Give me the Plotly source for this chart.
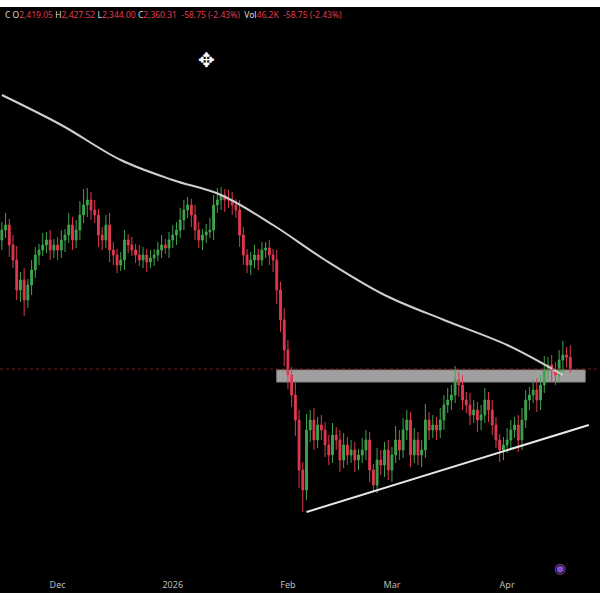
import pandas as pd
import plotly.graph_objects as go

# daily closes (Nov 16 2025 -> Apr 18 2026)
closes = [
    3055, 3080, 2980, 2905, 2755, 2805, 2705, 2780, 2855, 2930, 2955, 2980, 3005, 2955, 2980,
    2955, 3005, 3030, 3080, 3005, 3055, 3130, 3180, 3205, 3155, 3130, 3030, 3005, 3080, 2955, 2930,
    2880, 2905, 3005, 2980, 2955, 2930, 2905, 2930, 2895, 2915, 2930, 2955, 2980, 2965, 3005,
    3030, 3055, 3105, 3155, 3180, 3130, 3055, 3005, 3030, 3045, 3055, 3180, 3205, 3230, 3205, 3205,
    3180, 3155, 3030, 2930, 2880, 2905, 2930, 2905, 2955, 2965, 2930, 2905, 2755, 2605, 2455,
    2330, 2230, 2105, 1855, 1755, 2055, 2105, 2005, 2080, 2055, 1980, 1930, 2030, 2005, 1905, 1980,
    1930, 1955, 1905, 1930, 1955, 2005, 1855, 1780, 1905, 1880, 1955, 1855,
    1930, 2005, 1955, 2055, 2105, 1930, 2005, 1930, 1955, 2105, 2055, 2080, 2055, 2105, 2180, 2205,
    2230, 2305, 2280, 2205, 2180, 2130, 2155, 2105, 2130, 2205, 2155, 2080, 2005, 1955, 1980,
    2005, 2055, 2080, 2005, 2105, 2205, 2230, 2255, 2205, 2280, 2355, 2380, 2355, 2330, 2405, 2430,
    2419, 2360,
]
first_open = 3005
wick_up = [
    40, 60, 30, 50, 70, 40, 60, 30, 50, 40, 30, 60, 40, 50, 30,
    40, 50, 30, 60, 40, 50, 70, 80, 60, 40, 50, 30, 40, 50, 60, 40,
    30, 40, 50, 30, 40, 30, 50, 40, 30, 40, 30, 40, 50, 30, 40,
    50, 40, 60, 50, 40, 30, 50, 40, 30, 40, 60, 50, 60, 40, 30, 50,
    40, 30, 50, 40, 30, 40, 50, 30, 40, 30, 40, 30, 50, 40, 60,
    50, 40, 60, 50, 40, 80, 50, 60, 40, 50, 40, 50, 60, 40, 50, 60,
    40, 50, 40, 30, 60, 50, 40, 30, 60, 50, 40, 50,
    40, 70, 50, 60, 50, 40, 60, 40, 50, 80, 40, 50, 40, 60, 50, 60,
    50, 70, 40, 50, 40, 60, 50, 40, 50, 60, 40, 50, 40, 30, 40,
    60, 50, 40, 50, 60, 50, 40, 50, 60, 50, 70, 40, 50, 40, 50, 70,
    40, 60,
]
wick_dn = [
    50, 40, 60, 40, 50, 60, 80, 40, 50, 40, 50, 30, 40, 50, 40,
    50, 40, 60, 40, 50, 40, 50, 40, 60, 50, 40, 60, 50, 40, 60, 50,
    40, 30, 50, 40, 30, 40, 30, 40, 50, 30, 40, 30, 40, 30, 50,
    40, 50, 40, 50, 40, 60, 50, 40, 50, 40, 30, 50, 40, 50, 60, 40,
    50, 40, 60, 50, 40, 50, 40, 50, 30, 40, 50, 60, 70, 60, 80,
    70, 60, 80, 90, 110, 50, 60, 50, 40, 50, 60, 50, 40, 50, 60, 40,
    50, 40, 60, 50, 40, 50, 60, 30, 40, 50, 60, 50,
    60, 40, 50, 40, 50, 60, 40, 50, 60, 40, 50, 40, 50, 40, 50, 40,
    50, 40, 60, 50, 40, 50, 40, 60, 50, 40, 60, 50, 40, 60, 50,
    40, 50, 40, 60, 50, 40, 50, 40, 60, 50, 40, 50, 60, 50, 40, 60,
    50, 20,
]

# moving average line (read at a few points)
ma_dates = ["2025-11-16", "2025-12-02", "2025-12-18", "2026-01-01", "2026-01-14", "2026-01-28",
            "2026-02-11", "2026-02-27", "2026-03-15", "2026-04-01", "2026-04-16"]
ma_vals = [3730, 3580, 3405, 3305, 3230, 3080, 2905, 2730, 2605, 2480, 2330]

# drawings
zone_x = ["2026-01-29", "2026-04-22"]
zone_y = [2295, 2355]
trend_x = ["2026-02-06", "2026-04-23"]
trend_y = [1645, 2080]
last_price = 2360

dates = pd.date_range("2025-11-16", periods=len(closes), freq="D")
opens = [first_open] + closes[:-1]
highs = [max(o, c) + w for o, c, w in zip(opens, closes, wick_up)]
lows = [min(o, c) - w for o, c, w in zip(opens, closes, wick_dn)]

fig = go.Figure()
fig.add_trace(go.Candlestick(
    x=dates, open=opens, high=highs, low=lows, close=closes,
    increasing=dict(line=dict(color="#3fa34d", width=1), fillcolor="#3fa34d"),
    decreasing=dict(line=dict(color="#e0394f", width=1), fillcolor="#e0394f"),
    whiskerwidth=0, showlegend=False, hoverinfo="skip",
))
fig.add_trace(go.Scatter(x=ma_dates, y=ma_vals, mode="lines", line=dict(color="#d0d0d0", width=2, shape="spline"),
                         showlegend=False, hoverinfo="skip"))
fig.add_trace(go.Scatter(x=trend_x, y=trend_y, mode="lines", line=dict(color="#e8e8e8", width=2),
                         showlegend=False, hoverinfo="skip"))

fig.add_shape(type="rect", x0=zone_x[0], x1=zone_x[1], y0=zone_y[0], y1=zone_y[1],
              fillcolor="rgba(200,200,200,0.8)", line=dict(color="#888", width=1), layer="below")
fig.add_shape(type="line", xref="paper", x0=0, x1=1, y0=last_price, y1=last_price,
              line=dict(color="#7a1c24", width=1, dash="dot"))

fig.add_annotation(
    xref="paper", yref="paper", x=0.005, y=1.0, xanchor="left", yanchor="top", showarrow=False,
    text=("<span style='color:#ddd'>C O</span>2,419.05 <span style='color:#ddd'>H</span>2,427.52 "
          "<span style='color:#ddd'>L</span>2,344.00 <span style='color:#ddd'>C</span>2,360.31  -58.75 (-2.43%)  "
          "<span style='color:#ddd'>Vol</span>46.2K  -58.75 (-2.43%)"),
    font=dict(color="#e0394f", size=8.5, family="Noto Sans"),
)
fig.add_annotation(xref="paper", yref="paper", x=206 / 600, y=1 - 37 / 586, showarrow=False,
                   text="✥", font=dict(color="white", size=20))
fig.add_annotation(xref="paper", yref="paper", x=568 / 600, y=1 - 572 / 586, showarrow=False,
                   text="◉", font=dict(color="#8a4fbf", size=14))

fig.update_layout(
    width=600, height=600,
    margin=dict(l=0, r=0, t=7, b=7),
    paper_bgcolor="white", plot_bgcolor="black",
    xaxis=dict(range=["2025-11-15 12:00", "2026-04-26"], rangeslider=dict(visible=False),
               showgrid=False, zeroline=False, ticklabelposition="inside",
               tickvals=["2025-12-01", "2026-01-01", "2026-02-01", "2026-03-01", "2026-04-01"],
               ticktext=["Dec", "2026", "Feb", "Mar", "Apr"], ticks="",
               tickfont=dict(color="#bbb", size=9, family="Noto Sans")),
    yaxis=dict(range=[1240, 4170], showgrid=False, zeroline=False, showticklabels=False),
)

fig.write_html("out.html", config={"displayModeBar": False},
               post_script="document.body.style.margin='0';")
